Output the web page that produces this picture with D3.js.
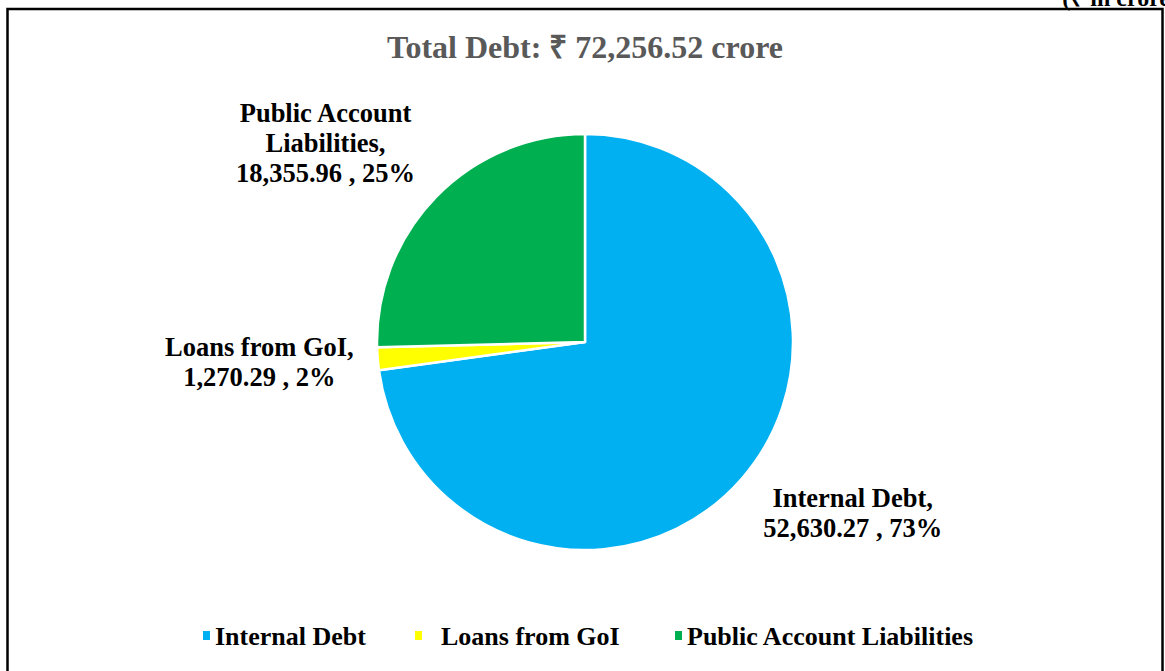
<!DOCTYPE html>
<html>
<head>
<meta charset="utf-8">
<script src="https://cdn.jsdelivr.net/npm/d3@7"></script>
<style>
  html, body { margin: 0; padding: 0; background: #fff; overflow: hidden; }
  text { font-family: "Liberation Serif", "Times New Roman", serif; font-weight: bold; }
</style>
</head>
<body>
<div id="chart"></div>
<script>
const categories = ["Internal Debt", "Loans from GoI", "Public Account Liabilities"];
const values = [52630.27, 1270.29, 18355.96];
const valueLabels = ["52,630.27", "1,270.29", "18,355.96"];
const percentLabels = ["73%", "2%", "25%"];
const labelLines = [["Internal Debt,"], ["Loans from GoI,"], ["Public Account", "Liabilities,"]];
const colors = ["#00B0F0", "#FFFF00", "#00B050"];
const titleText = "Total Debt: \u20B9 72,256.52 crore";
const unitText = "(\u20B9 in crore)";

const sizes = {
    width: 1165,
    height: 671,
    cx: 585,
    cy: 342,
    radius: 208,
    labelGap: 14,
    lineHeight: 30
};

const svg = d3.select("#chart")
    .append("svg")
    .attr("width", sizes.width)
    .attr("height", sizes.height);

// outer frame (bottom runs off the page)
svg.append("rect")
    .attr("x", 7.5)
    .attr("y", 9)
    .attr("width", 1155)
    .attr("height", 700)
    .attr("fill", "none")
    .attr("stroke", "#000")
    .attr("stroke-width", 2.5);

svg.append("text")
    .attr("x", 1178)
    .attr("y", 6)
    .attr("text-anchor", "end")
    .attr("font-size", 24)
    .attr("fill", "#000")
    .text(unitText);

svg.append("text")
    .attr("x", sizes.cx)
    .attr("y", 58)
    .attr("text-anchor", "middle")
    .attr("font-size", 32)
    .attr("fill", "#595959")
    .text(titleText);

const pie = d3.pie().sort(null).value(d => d);
const arcs = pie(values);

const arc = d3.arc()
    .innerRadius(0)
    .outerRadius(sizes.radius);

const g = svg.append("g")
    .attr("transform", "translate(" + sizes.cx + "," + sizes.cy + ")");

g.selectAll("path.slice")
    .data(arcs)
    .enter()
    .append("path")
    .attr("class", "slice")
    .attr("d", arc)
    .attr("fill", (d, i) => colors[i])
    .attr("stroke", "#fff")
    .attr("stroke-width", 2.5)
    .attr("stroke-linejoin", "round");

// data labels, placed just outside each slice
const labelRadius = sizes.radius + 10;
arcs.forEach((d, i) => {
    const a = (d.startAngle + d.endAngle) / 2;
    const px = Math.sin(a) * labelRadius;
    const py = -Math.cos(a) * labelRadius;
    const lines = labelLines[i].concat([valueLabels[i] + " , " + percentLabels[i]]);

    const lg = g.append("g");
    const texts = lg.selectAll("text")
        .data(lines)
        .enter()
        .append("text")
        .attr("font-size", 26.5)
        .attr("fill", "#000")
        .attr("text-anchor", "middle")
        .attr("y", (t, j) => j * sizes.lineHeight)
        .text(t => t);

    const blockW = d3.max(texts.nodes(), n => n.getComputedTextLength());
    const blockH = lines.length * sizes.lineHeight;
    const right = Math.sin(a) >= 0;
    const bx = right ? px + sizes.labelGap + blockW / 2 : px - sizes.labelGap - blockW / 2;
    const dir = Math.max(-1, Math.min(1, -Math.cos(a) / 0.5));
    const topY = py - blockH * (0.5 - 0.5 * dir);
    lg.attr("transform", "translate(" + bx + "," + (topY + 22) + ")");
});

// legend
const legendY = 645;
const legendX = [203, 415, 675];
const legend = svg.append("g");
categories.forEach((c, i) => {
    legend.append("rect")
        .attr("x", legendX[i])
        .attr("y", legendY - 14)
        .attr("width", 7)
        .attr("height", 9)
        .attr("fill", colors[i]);
    legend.append("text")
        .attr("x", legendX[i] + (i === 1 ? 26 : 12))
        .attr("y", legendY)
        .attr("font-size", 26)
        .attr("fill", "#000")
        .text(c);
});
</script>
</body>
</html>
